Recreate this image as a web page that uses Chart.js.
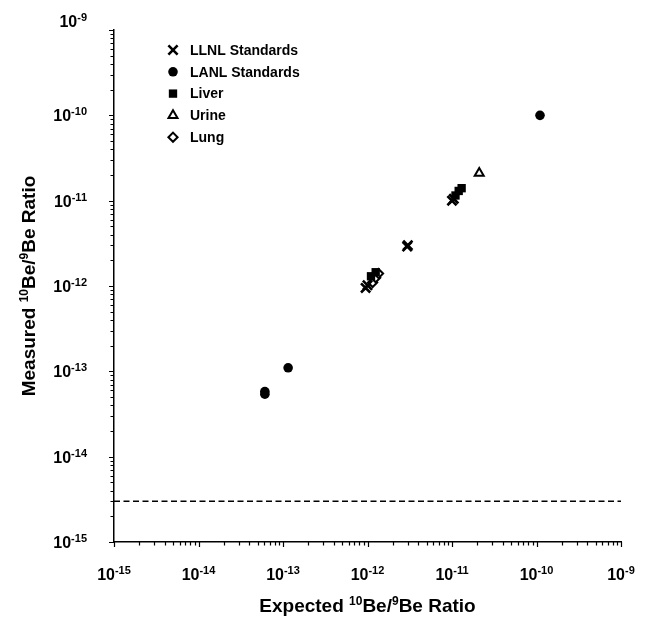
<!DOCTYPE html>
<html>
<head>
<meta charset="utf-8">
<script src="https://cdn.jsdelivr.net/npm/chart.js@4.4.1/dist/chart.umd.min.js"></script>
<style>
  html, body { margin: 0; padding: 0; background: #fff; }
  #wrap { width: 652px; height: 627px; }
</style>
</head>
<body>
<div id="wrap"><canvas id="chart"></canvas></div>
<script>
// decade exponents used for the tick labels on both axes
const exponents = [-15, -14, -13, -12, -11, -10, -9];
const minorSteps = [2, 3, 4, 5, 6, 7, 8, 9];

// [expected, measured]
const llnl = [[0.95e-12, 0.95e-12], [1.0e-12, 1.02e-12], [3.0e-12, 3.0e-12], [2.95e-12, 2.9e-12], [1.0e-11, 1.0e-11], [1.05e-11, 1.05e-11]];
const lanl = [[6.1e-14, 5.4e-14], [6.1e-14, 5.8e-14], [1.15e-13, 1.1e-13], [1.1e-10, 1.0e-10]];
const liver = [[1.1e-12, 1.3e-12], [1.25e-12, 1.45e-12], [1.1e-11, 1.15e-11], [1.2e-11, 1.3e-11], [1.3e-11, 1.4e-11]];
const urine = [[2.1e-11, 2.1e-11]];
const lung = [[1.15e-12, 1.1e-12], [1.25e-12, 1.25e-12], [1.35e-12, 1.4e-12]];
const detectionLimit = 3e-15;

const legendLabels = ["LLNL Standards", "LANL Standards", "Liver", "Urine", "Lung"];
const xTitle = [["Expected ", false], ["10", true], ["Be/", false], ["9", true], ["Be Ratio", false]];
const yTitle = [["Measured ", false], ["10", true], ["Be/", false], ["9", true], ["Be Ratio", false]];

const FONT = '"Liberation Sans", Arial, Helvetica, sans-serif';
const pts = (arr) => arr.map(([x, y]) => ({ x, y }));

const series = [
  { label: legendLabels[0], data: pts(llnl), pointStyle: "crossRot", pointRadius: 6.5, borderWidth: 2.6, borderColor: "#000", backgroundColor: "#000" },
  { label: legendLabels[1], data: pts(lanl), pointStyle: "circle", pointRadius: 4.8, borderWidth: 0, borderColor: "#000", backgroundColor: "#000" },
  { label: legendLabels[2], data: pts(liver), pointStyle: "rect", pointRadius: 5.9, borderWidth: 0, borderColor: "#000", backgroundColor: "#000" },
  { label: legendLabels[3], data: pts(urine), pointStyle: "triangle", pointRadius: 5.2, borderWidth: 2, borderColor: "#000", backgroundColor: "#fff" },
  { label: legendLabels[4], data: pts(lung), pointStyle: "rectRot", pointRadius: 4.6, borderWidth: 2, borderColor: "#000", backgroundColor: "#fff" },
];

// text with superscript pieces, y is the baseline
function drawSup(ctx, parts, x, y, big, small, align) {
  const fb = `bold ${big}px ${FONT}`;
  const fs = `bold ${small}px ${FONT}`;
  let w = 0;
  parts.forEach(([t, s]) => { ctx.font = s ? fs : fb; w += ctx.measureText(t).width; });
  let cx = align === "right" ? x - w : align === "center" ? x - w / 2 : x;
  ctx.textAlign = "left";
  ctx.textBaseline = "alphabetic";
  parts.forEach(([t, s]) => {
    ctx.font = s ? fs : fb;
    ctx.fillText(t, cx, s ? y - big * 0.38 : y);
    cx += ctx.measureText(t).width;
  });
}

const decorations = {
  id: "decorations",
  afterDraw(chart) {
    const { ctx, scales: { x, y } } = chart;
    ctx.save();
    ctx.strokeStyle = "#000";
    ctx.fillStyle = "#000";
    ctx.lineWidth = 1.2;

    // outward tick marks, decades slightly longer
    const values = [];
    exponents.forEach((e) => {
      values.push([Math.pow(10, e), true]);
      if (e < -9) minorSteps.forEach((m) => values.push([m * Math.pow(10, e), false]));
    });
    ctx.beginPath();
    values.forEach(([v, major]) => {
      const len = major ? 5 : 3.5;
      const px = Math.round(x.getPixelForValue(v)) + 0.5;
      ctx.moveTo(px, x.top);
      ctx.lineTo(px, x.top + len);
      const py = Math.round(y.getPixelForValue(v)) + 0.5;
      ctx.moveTo(y.right, py);
      ctx.lineTo(y.right - len, py);
    });
    ctx.stroke();

    // decade labels
    exponents.forEach((e) => {
      const parts = [["10", false], [String(e), true]];
      const px = x.getPixelForValue(Math.pow(10, e));
      drawSup(ctx, parts, px, x.top + 38, 16, 11, "center");
      let py = y.getPixelForValue(Math.pow(10, e));
      if (e === -9) py -= 9;
      drawSup(ctx, parts, y.right - 27, py + 6, 16, 11, "right");
    });

    // axis titles
    drawSup(ctx, xTitle, (x.left + x.right) / 2, 612, 19, 12, "center");
    ctx.save();
    ctx.translate(35, (y.top + y.bottom) / 2);
    ctx.rotate(-Math.PI / 2);
    drawSup(ctx, yTitle, 0, 0, 19, 12, "center");
    ctx.restore();

    // legend
    legendLabels.forEach((label, i) => {
      const ds = series[i];
      const ly = 50 + i * 21.8;
      ctx.fillStyle = ds.backgroundColor;
      ctx.strokeStyle = ds.borderColor;
      ctx.lineWidth = ds.borderWidth || 1;
      Chart.helpers.drawPoint(ctx, {
        pointStyle: ds.pointStyle,
        radius: ds.pointRadius,
        borderWidth: ds.borderWidth,
        rotation: 0,
      }, 173, ly);
      ctx.fillStyle = "#000";
      ctx.font = `bold 14px ${FONT}`;
      ctx.textAlign = "left";
      ctx.textBaseline = "middle";
      ctx.fillText(label, 190, ly + 1);
    });
    ctx.restore();
  },
};

new Chart(document.getElementById("chart"), {
  type: "scatter",
  data: {
    datasets: [
      ...series.map((s) => ({ ...s, pointHoverRadius: s.pointRadius })),
      {
        type: "line",
        label: "limit",
        data: [{ x: 1e-15, y: detectionLimit }, { x: 1e-9, y: detectionLimit }],
        borderColor: "#000",
        borderWidth: 1.4,
        borderDash: [6, 3.5],
        pointRadius: 0,
      },
    ],
  },
  options: {
    responsive: true,
    maintainAspectRatio: false,
    animation: false,
    layout: { padding: { left: 114, top: 30, right: 31, bottom: 85 } },
    plugins: { legend: { display: false }, tooltip: { enabled: false } },
    scales: {
      x: {
        type: "logarithmic",
        min: 1e-15,
        max: 1e-9,
        grid: { display: false, drawTicks: false },
        ticks: { display: false },
        border: { display: true, color: "#000", width: 1.5 },
      },
      y: {
        type: "logarithmic",
        min: 1e-15,
        max: 1e-9,
        grid: { display: false, drawTicks: false },
        ticks: { display: false },
        border: { display: true, color: "#000", width: 1.5 },
      },
    },
  },
  plugins: [decorations],
});
</script>
</body>
</html>
